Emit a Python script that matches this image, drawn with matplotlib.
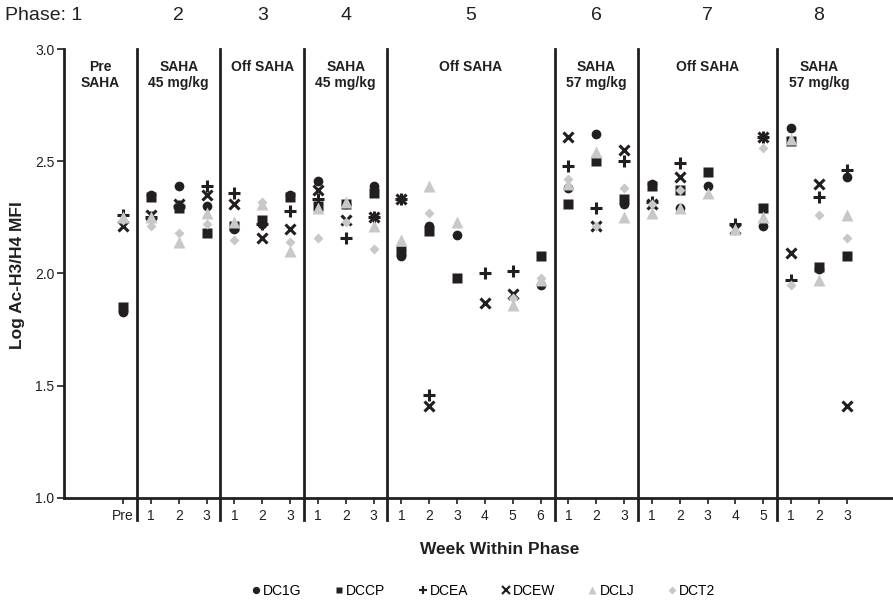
import numpy as np
import matplotlib
matplotlib.use("Agg")
import matplotlib.pyplot as plt
from matplotlib.lines import Line2D

plt.rcParams['font.family'] = ['Liberation Sans', 'DejaVu Sans']

# weeks per phase (phase 1 is the single "Pre" point)
phase_weeks = [1, 3, 3, 3, 6, 3, 5, 3]
phase_names = ["1", "2", "3", "4", "5", "6", "7", "8"]
phase_text = ["Pre\nSAHA", "SAHA\n45 mg/kg", "Off SAHA", "SAHA\n45 mg/kg",
              "Off SAHA", "SAHA\n57 mg/kg", "Off SAHA", "SAHA\n57 mg/kg"]
week_labels = ["Pre"] + [str(w) for n in phase_weeks[1:] for w in range(1, n + 1)]

nan = np.nan
DC1G = [1.83, 2.35, 2.39, 2.30, 2.20, 2.22, 2.35, 2.41, 2.31, 2.39,
        2.08, 2.21, 2.17, nan, nan, 1.95, 2.38, 2.62, 2.31,
        2.40, 2.29, 2.39, nan, 2.21, 2.65, 2.02, 2.43]
DCCP = [1.85, 2.34, 2.29, 2.18, 2.21, 2.24, 2.34, 2.30, 2.31, 2.36,
        2.10, 2.19, 1.98, nan, nan, 2.08, 2.31, 2.50, 2.33,
        2.39, 2.37, 2.45, nan, 2.29, 2.59, 2.03, 2.08]
DCEA = [2.26, 2.25, 2.30, 2.39, 2.36, 2.22, 2.28, 2.33, 2.16, 2.25,
        2.33, 1.46, nan, 2.00, 2.01, nan, 2.48, 2.29, 2.50,
        2.32, 2.49, nan, 2.22, 2.61, 1.97, 2.34, 2.46]
DCEW = [2.21, 2.26, 2.31, 2.35, 2.31, 2.16, 2.20, 2.37, 2.24, 2.25,
        2.33, 1.41, nan, 1.87, 1.91, nan, 2.61, 2.21, 2.55,
        2.31, 2.43, nan, 2.20, 2.61, 2.09, 2.40, 1.41]
DCLJ = [2.25, 2.25, 2.14, 2.27, 2.23, 2.31, 2.10, 2.29, 2.32, 2.21,
        2.15, 2.39, 2.23, nan, 1.86, 1.97, 2.40, 2.54, 2.25,
        2.27, 2.29, 2.36, 2.20, 2.25, 2.60, 1.97, 2.26]
DCT2 = [2.24, 2.21, 2.18, 2.22, 2.15, 2.32, 2.14, 2.16, 2.23, 2.11,
        nan, 2.27, nan, nan, 1.89, 1.98, 2.42, 2.21, 2.38,
        2.31, 2.37, nan, 2.19, 2.56, 1.95, 2.26, 2.16]

black = '#231f20'
gray = '#c8c8c8'
series = [
    ("DC1G", DC1G, 'o', black, 7, 1),
    ("DCCP", DCCP, 's', black, 6.5, 1),
    ("DCEA", DCEA, '+', black, 8, 2.2),
    ("DCEW", DCEW, 'x', black, 7, 2.2),
    ("DCLJ", DCLJ, '^', gray, 8, 1),
    ("DCT2", DCT2, 'D', gray, 5.5, 1),
]

x = np.arange(len(week_labels))
bounds = np.cumsum(phase_weeks)
dividers = bounds[:-1] - 0.5
starts = np.concatenate([[0], bounds[:-1]])

fig = plt.figure(figsize=(8.93, 6.05), dpi=100)
ax = fig.add_axes([0.0717, 0.177, 0.928, 0.742])

for name, vals, m, c, ms, mew in series:
    ax.plot(x, vals, linestyle='none', marker=m, color=c, markersize=ms,
            markeredgewidth=mew, markeredgecolor=c if m in '+x' else 'none',
            label=name, clip_on=False)

ax.set_xlim(-2.12, 27.65)
ax.set_ylim(1.0, 3.0)
ax.set_yticks([1.0, 1.5, 2.0, 2.5, 3.0])
ax.set_yticklabels(["1.0", "1.5", "2.0", "2.5", "3.0"])
ax.set_xticks(x)
ax.set_xticklabels(week_labels)
ax.tick_params(axis='both', labelsize=10, colors=black, width=1.2)
ax.tick_params(axis='x', length=4, pad=4)
ax.tick_params(axis='y', length=5, pad=2)
for s in ['top', 'right']:
    ax.spines[s].set_visible(False)
for s in ['left', 'bottom']:
    ax.spines[s].set_linewidth(2)
    ax.spines[s].set_color(black)

for d in dividers:
    ax.plot([d, d], [0.9, 3.0], color=black, lw=2, clip_on=False)

# phase numbers and treatment labels
for i, (s, n) in enumerate(zip(starts, phase_weeks)):
    lo = -2.12 if i == 0 else s - 0.5
    hi = s + n - 0.5
    cx = (lo + hi) / 2
    ax.text(cx, 2.95, phase_text[i], ha='center', va='top', fontsize=10,
            fontweight='bold', color=black, linespacing=1.15)
    if i > 0:
        ax.text(cx, 3.15, phase_names[i], ha='center', va='center',
                fontsize=14, color=black, clip_on=False)
fig.text(5 / 893, 1 - 16 / 605, "Phase: 1", ha='left', va='center',
         fontsize=14, color=black)

fig.text(500 / 893, 1 - 550 / 605, "Week Within Phase", ha='center',
         va='center', fontsize=12.5, fontweight='bold', color=black)
fig.text(18 / 893, 1 - 275 / 605, "Log Ac-H3/H4 MFI", ha='center',
         va='center', rotation=90, fontsize=12.5, fontweight='bold', color=black)

handles = [Line2D([], [], linestyle='none', marker=m, color=c,
                  markersize=ms * 0.75, markeredgewidth=mew * 0.7,
                  markeredgecolor=c if m in '+x' else 'none')
           for _, _, m, c, ms, mew in series]
fig.legend(handles, [s[0] for s in series], loc='center',
           bbox_to_anchor=(482 / 893, 1 - 591 / 605), ncol=6, frameon=False,
           fontsize=10, handletextpad=0.0, columnspacing=2.2, handlelength=1.0)

fig.savefig("out.png", dpi=100)
